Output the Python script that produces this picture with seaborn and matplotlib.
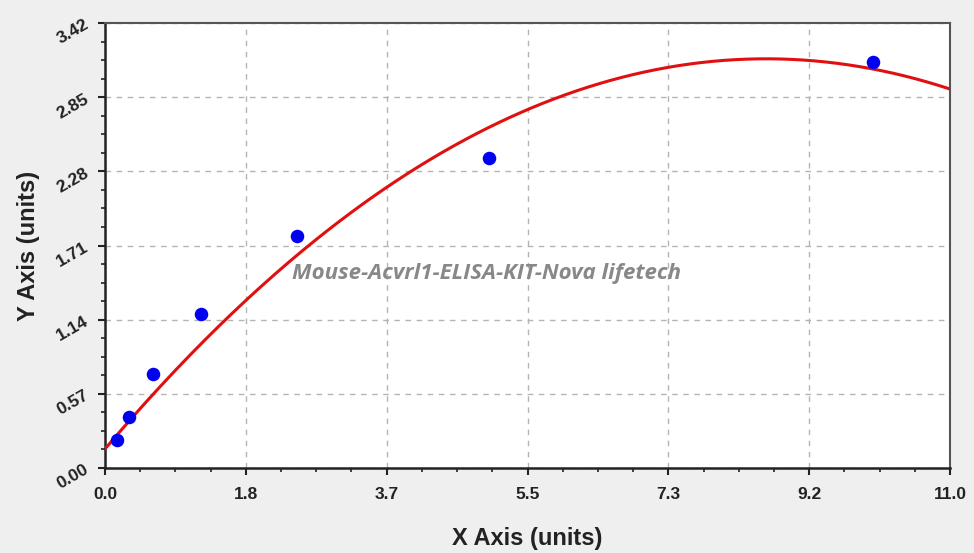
import numpy as np
import pandas as pd
import matplotlib
matplotlib.use("Agg")
import matplotlib.pyplot as plt
import seaborn as sns
from matplotlib.ticker import FixedLocator, AutoMinorLocator

# Data
conc = [0.156, 0.3125, 0.625, 1.25, 2.5, 5.0, 10.0]
od = [0.215, 0.39, 0.72, 1.18, 1.78, 2.38, 3.12]
# Fitted curve (quadratic) coefficients: y = a + b*x + c*x^2
fit_a, fit_b, fit_c = 0.146, 0.697, -0.0405
x_ticks = [0.0, 1.8333, 3.6667, 5.5, 7.3333, 9.1667, 11.0]
x_labels = ["0.0", "1.8", "3.7", "5.5", "7.3", "9.2", "11.0"]
y_ticks = [0.00, 0.57, 1.14, 1.71, 2.28, 2.85, 3.42]
y_labels = ["0.00", "0.57", "1.14", "1.71", "2.28", "2.85", "3.42"]

df = pd.DataFrame({"x": conc, "y": od})
xs = np.linspace(0, 11.0, 300)
curve = pd.DataFrame({"x": xs, "y": np.polyval([fit_c, fit_b, fit_a], xs)})

sns.set_style("white")
plt.rcParams["font.family"] = ["Liberation Sans", "DejaVu Sans"]

fig = plt.figure(figsize=(9.74, 5.53), dpi=100, facecolor="#efefef")
ax = fig.add_axes([105/974, 1 - 468/553, (950-105)/974, (468-23)/553])
ax.set_facecolor("white")

sns.lineplot(data=curve, x="x", y="y", ax=ax, color="#e01010", lw=2.2, zorder=3)
sns.scatterplot(data=df, x="x", y="y", ax=ax, color="#0000ee", s=95,
                edgecolor="#0000ee", linewidth=0, zorder=4)
ax.set_xlim(0, 11.0)
ax.set_ylim(0, 3.42)

ax.xaxis.set_major_locator(FixedLocator(x_ticks))
ax.yaxis.set_major_locator(FixedLocator(y_ticks))
ax.set_xticklabels(x_labels)
ax.set_yticklabels(y_labels, rotation=30)
ax.xaxis.set_minor_locator(AutoMinorLocator(4))
ax.yaxis.set_minor_locator(AutoMinorLocator(4))
ax.tick_params(axis="both", which="major", direction="out", length=5, width=1.5,
               color="#222222", labelsize=12.5, bottom=True, left=True)
ax.tick_params(axis="x", which="major", pad=9)
ax.tick_params(axis="y", which="major", pad=5)
ax.tick_params(axis="both", which="minor", direction="out", length=3, width=1.2,
               color="#222222", bottom=True, left=True)
for lab in ax.get_xticklabels() + ax.get_yticklabels():
    lab.set_fontweight("bold")
    lab.set_color("#222222")

ax.grid(True, which="major", linestyle=(0, (4, 4)), color="#b4b4b4", lw=1)
ax.set_axisbelow(True)
for s in ["left", "bottom"]:
    ax.spines[s].set_color("#222222")
    ax.spines[s].set_linewidth(1.8)
for s in ["top", "right"]:
    ax.spines[s].set_color("#555555")
    ax.spines[s].set_linewidth(1.5)

ax.set_xlabel("X Axis (units)", fontsize=17, fontweight="bold", color="#222222", labelpad=18)
ax.set_ylabel("Y Axis (units)", fontsize=17, fontweight="bold", color="#222222", labelpad=10)

ax.text(0.452, 0.437, "Mouse-Acvrl1-ELISA-KIT-Nova lifetech", transform=ax.transAxes,
        ha="center", va="center", fontsize=16, fontstyle="italic", fontweight="bold",
        color="#888888", family=["Open Sans", "DejaVu Sans"])

fig.savefig("out.png", dpi=100, facecolor=fig.get_facecolor())
